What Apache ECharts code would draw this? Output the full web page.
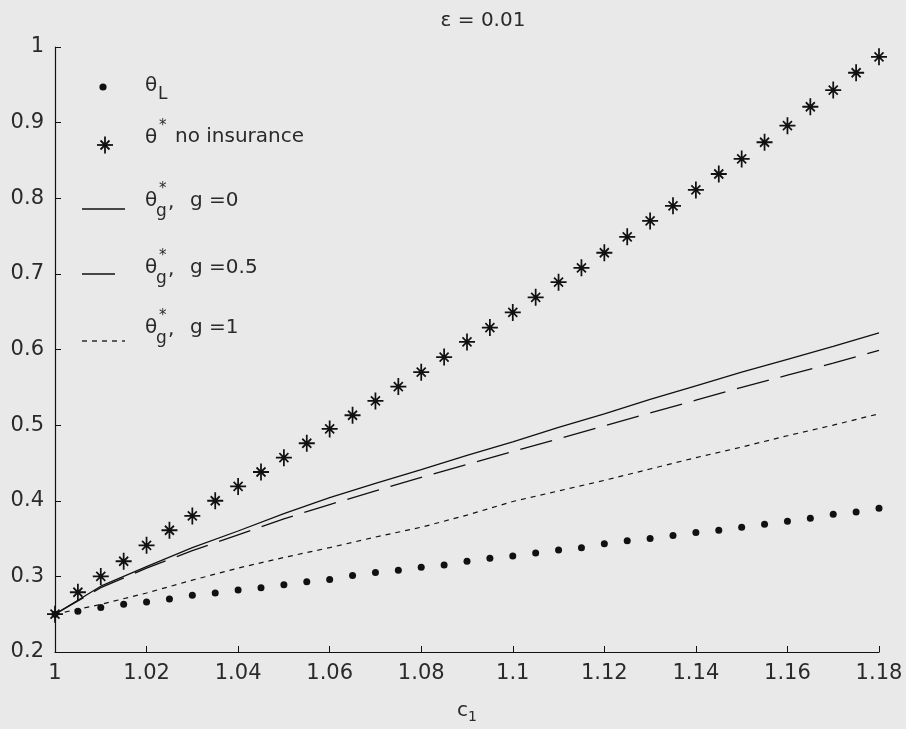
<!DOCTYPE html>
<html>
<head>
<meta charset="utf-8">
<script src="https://cdn.jsdelivr.net/npm/echarts@6/dist/echarts.min.js"></script>
<style>
  html, body { margin: 0; padding: 0; background: #e9e9e9; }
  #chart { width: 906px; height: 729px; }
</style>
</head>
<body>
<div id="chart"></div>
<script>
// c1 values where the two marker series are sampled
const cMarkers = [1.000, 1.005, 1.010, 1.015, 1.020, 1.025, 1.030, 1.035, 1.040, 1.045,
                  1.050, 1.055, 1.060, 1.065, 1.070, 1.075, 1.080, 1.085, 1.090, 1.095,
                  1.100, 1.105, 1.110, 1.115, 1.120, 1.125, 1.130, 1.135, 1.140, 1.145,
                  1.150, 1.155, 1.160, 1.165, 1.170, 1.175, 1.180];
// theta_L
const thetaL = [0.250, 0.254, 0.259, 0.263, 0.266, 0.270, 0.275, 0.278, 0.282, 0.285,
                0.289, 0.293, 0.296, 0.301, 0.305, 0.308, 0.312, 0.315, 0.320, 0.324,
                0.327, 0.331, 0.335, 0.338, 0.343, 0.347, 0.350, 0.354, 0.358, 0.361,
                0.365, 0.369, 0.373, 0.377, 0.382, 0.385, 0.390];
// theta* without insurance
const thetaNoIns = [0.250, 0.279, 0.300, 0.320, 0.341, 0.361, 0.380, 0.400, 0.419, 0.438,
                    0.457, 0.476, 0.495, 0.513, 0.532, 0.551, 0.570, 0.590, 0.610, 0.629,
                    0.649, 0.669, 0.689, 0.708, 0.728, 0.749, 0.770, 0.790, 0.811, 0.832,
                    0.852, 0.874, 0.896, 0.921, 0.943, 0.966, 0.987];
// c1 values for the three theta*_g curves
const cLine = [1.00, 1.01, 1.02, 1.03, 1.04, 1.05, 1.06, 1.07, 1.08, 1.09,
               1.10, 1.11, 1.12, 1.13, 1.14, 1.15, 1.16, 1.17, 1.18];
const thetaG0 = [0.250, 0.287, 0.313, 0.338, 0.360, 0.383, 0.404, 0.423, 0.441, 0.460,
                 0.478, 0.497, 0.515, 0.534, 0.552, 0.570, 0.587, 0.604, 0.622];
const thetaG05 = [0.250, 0.285, 0.311, 0.334, 0.355, 0.376, 0.395, 0.413, 0.431, 0.448,
                  0.465, 0.482, 0.499, 0.516, 0.533, 0.550, 0.566, 0.582, 0.599];
const thetaG1 = [0.250, 0.263, 0.278, 0.295, 0.311, 0.325, 0.338, 0.352, 0.365, 0.381,
                 0.399, 0.413, 0.427, 0.442, 0.457, 0.471, 0.486, 0.500, 0.515];
// axis tick labels
const xTickLabels = ['1', '1.02', '1.04', '1.06', '1.08', '1.1', '1.12', '1.14', '1.16', '1.18'];
const yTickLabels = ['0.2', '0.3', '0.4', '0.5', '0.6', '0.7', '0.8', '0.9', '1'];

const FONT = 'DejaVu Sans';
const INK = '#111111';
const TXT = '#2a2a2a';
// asterisk marker: long vertical/horizontal arms, shorter diagonals, small centre blob
const STAR = 'path://M8,0L8,17M0,8.5L16,8.5M3.5,4L12.5,13M3.5,13L12.5,4M6.8,8.5A1.2,1.2,0,1,0,9.2,8.5A1.2,1.2,0,1,0,6.8,8.5Z';

const pairs = (xs, ys) => xs.map((x, i) => [x, ys[i]]);

const chart = echarts.init(document.getElementById('chart'), null, { renderer: 'canvas' });

// legend drawn as plain graphic pieces (theta with sub/superscripts)
function legendText(x, y, size, text) {
  return { type: 'text', x: x, y: y, silent: true,
           style: { text: text, fill: TXT, font: size + 'px "' + FONT + '"',
                    align: 'left', verticalAlign: 'middle' } };
}
function seg(x1, y1, x2, y2, w, dash) {
  const el = { type: 'line', silent: true, shape: { x1: x1, y1: y1, x2: x2, y2: y2 },
               style: { stroke: INK, lineWidth: w } };
  if (dash) el.style.lineDash = dash;
  return el;
}
const legend = [];
// theta_L
legend.push({ type: 'circle', silent: true, shape: { cx: 103, cy: 87, r: 3.6 }, style: { fill: INK } });
legend.push(legendText(145, 86, 20, 'θ'));
legend.push(legendText(158, 95, 17, 'L'));
// theta* no insurance (asterisk)
const sx = 105, sy = 145;
legend.push(seg(sx, sy - 8.5, sx, sy + 8.5, 1.8));
legend.push(seg(sx - 8, sy, sx + 8, sy, 1.8));
legend.push(seg(sx - 4.5, sy - 4.5, sx + 4.5, sy + 4.5, 1.8));
legend.push(seg(sx - 4.5, sy + 4.5, sx + 4.5, sy - 4.5, 1.8));
legend.push({ type: 'circle', silent: true, shape: { cx: sx, cy: sy, r: 2 }, style: { fill: INK } });
legend.push(legendText(145, 138, 20, 'θ'));
legend.push(legendText(159, 126, 15, '*'));
legend.push(legendText(175, 137, 20, 'no insurance'));
// theta*_g entries
const gEntries = [
  { lineY: 209, textY: 201, label: 'g =0', dash: null },
  { lineY: 274, textY: 268, label: 'g =0.5', dash: [33, 12] },
  { lineY: 341, textY: 328, label: 'g =1', dash: [5, 5] }
];
gEntries.forEach(e => {
  legend.push(seg(82, e.lineY, 125, e.lineY, 1.3, e.dash));
  legend.push(legendText(145, e.textY, 20, 'θ'));
  legend.push(legendText(159, e.textY - 12, 15, '*'));
  legend.push(legendText(156, e.textY + 11, 17, 'g'));
  legend.push(legendText(168, e.textY + 2, 20, ','));
  legend.push(legendText(190, e.textY, 20, e.label));
});

const option = {
  backgroundColor: '#e9e9e9',
  animation: false,
  textStyle: { fontFamily: FONT },
  title: {
    text: 'ε = 0.01',
    left: 478, top: 6, textAlign: 'center',
    textStyle: { fontFamily: FONT, fontSize: 20, fontWeight: 'normal', color: TXT }
  },
  grid: { left: 55, right: 27, top: 47, bottom: 77, containLabel: false },
  xAxis: {
    type: 'value', min: 1, max: 1.18, interval: 0.02,
    name: '{c|c}{s|1}', nameLocation: 'middle', nameGap: 46,
    nameTextStyle: { rich: {
      c: { fontFamily: FONT, fontSize: 20, color: TXT },
      s: { fontFamily: FONT, fontSize: 14, color: TXT, padding: [12, 0, 0, 0] }
    } },
    axisLine: { onZero: false, lineStyle: { color: INK, width: 1.2 } },
    axisTick: { inside: true, length: 6, lineStyle: { color: INK } },
    splitLine: { show: false },
    axisLabel: { margin: 11, fontFamily: FONT, fontSize: 21, color: TXT,
                 formatter: (v, i) => xTickLabels[i] }
  },
  yAxis: {
    type: 'value', min: 0.2, max: 1, interval: 0.1,
    axisLine: { show: true, lineStyle: { color: INK, width: 1.2 } },
    axisTick: { show: true, inside: true, length: 6, lineStyle: { color: INK } },
    splitLine: { show: false },
    axisLabel: { margin: 11, fontFamily: FONT, fontSize: 21, color: TXT,
                 formatter: (v, i) => yTickLabels[i] }
  },
  graphic: legend,
  series: [
    { name: 'g=0', type: 'line', data: pairs(cLine, thetaG0), showSymbol: false,
      lineStyle: { color: INK, width: 1.3, type: 'solid' }, z: 2 },
    { name: 'g=0.5', type: 'line', data: pairs(cLine, thetaG05), showSymbol: false,
      lineStyle: { color: INK, width: 1.3, type: [33, 12] }, z: 2 },
    { name: 'g=1', type: 'line', data: pairs(cLine, thetaG1), showSymbol: false,
      lineStyle: { color: INK, width: 1.2, type: [5, 5] }, z: 2 },
    { name: 'thetaL', type: 'scatter', data: pairs(cMarkers, thetaL),
      symbol: 'circle', symbolSize: 7, itemStyle: { color: INK, opacity: 1 }, z: 3 },
    { name: 'noIns', type: 'scatter', data: pairs(cMarkers, thetaNoIns),
      symbol: STAR, symbolSize: [16, 17],
      itemStyle: { color: INK, borderColor: INK, borderWidth: 1.8, opacity: 1 }, z: 3 }
  ]
};
chart.setOption(option);
</script>
</body>
</html>
